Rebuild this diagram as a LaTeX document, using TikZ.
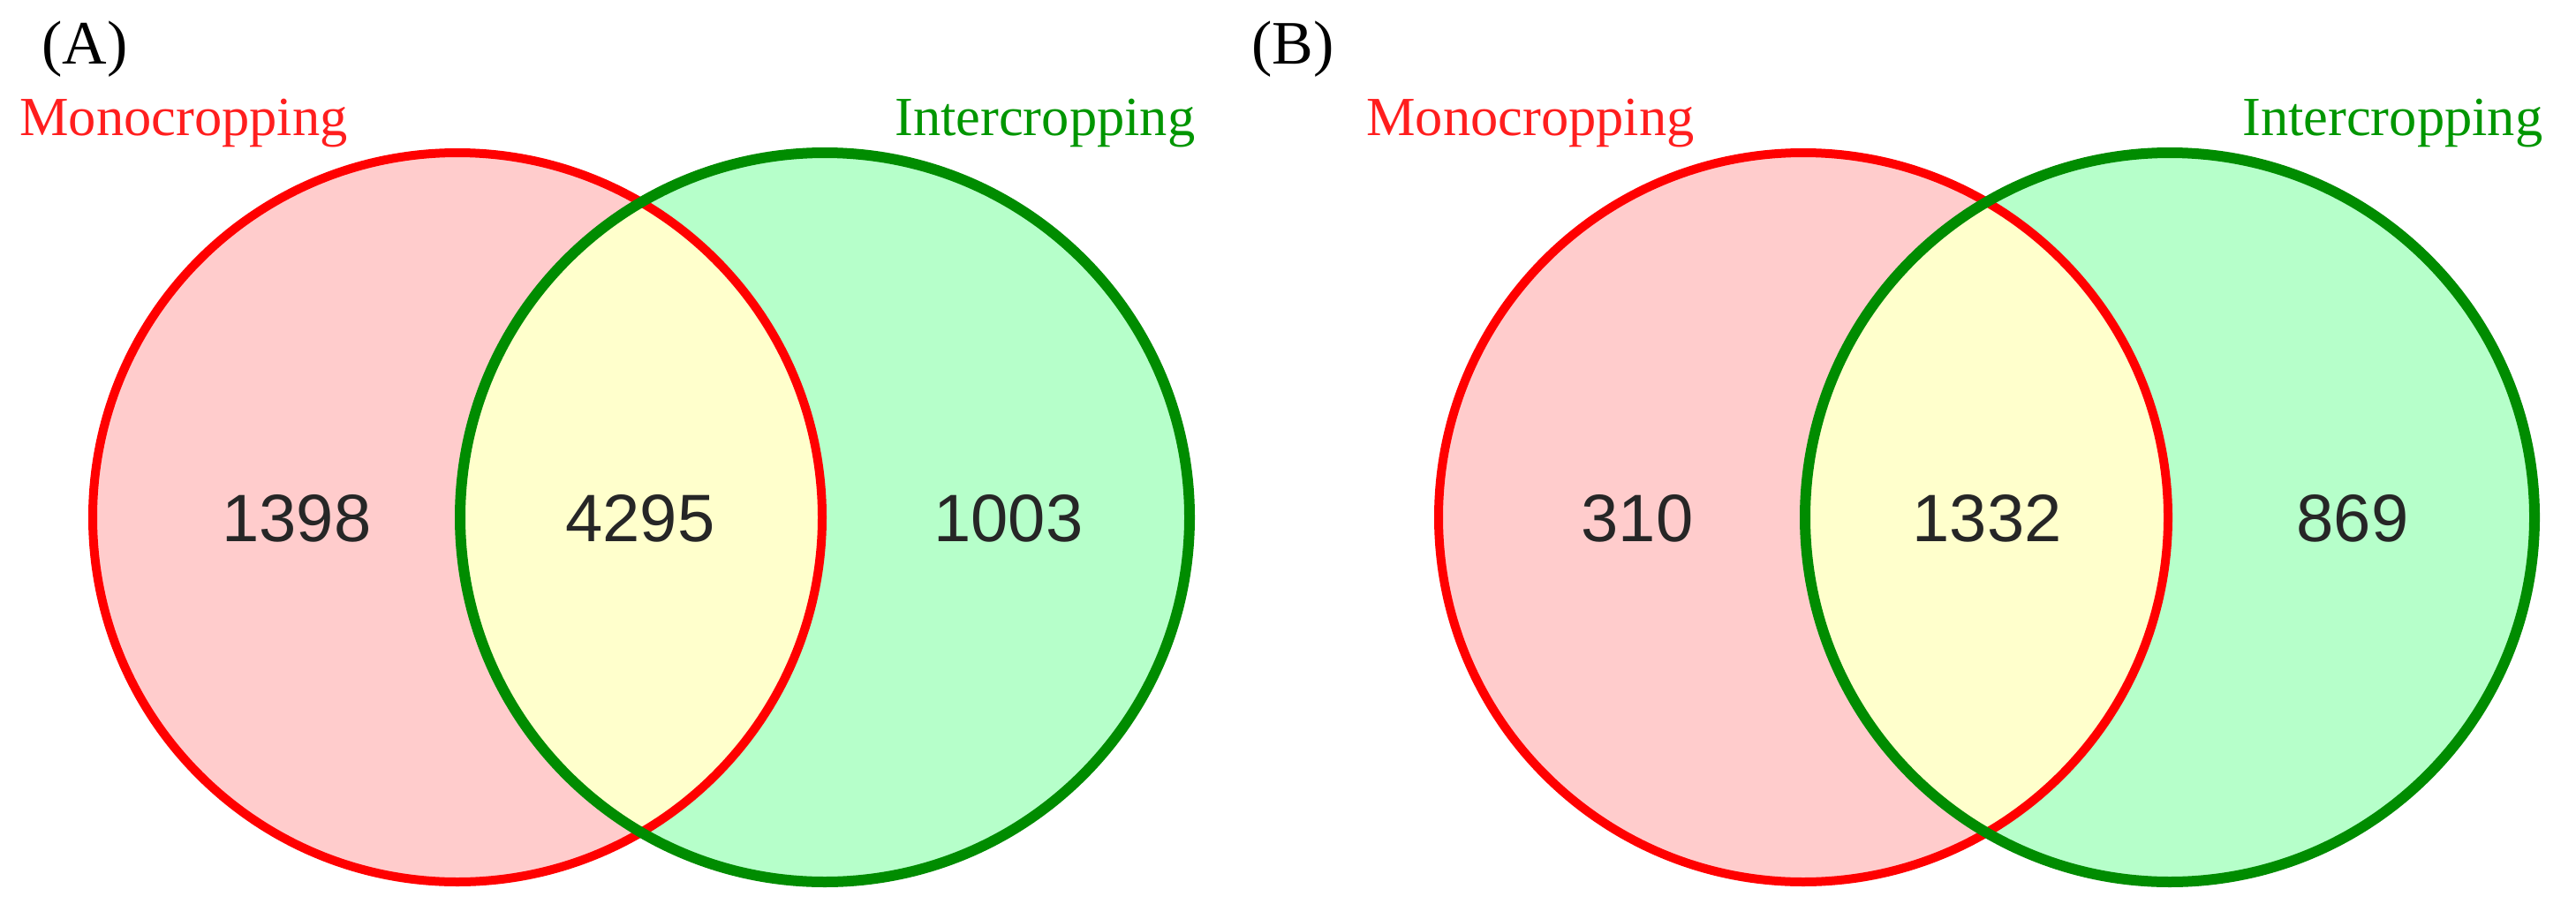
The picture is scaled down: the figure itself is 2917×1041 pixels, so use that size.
\documentclass[tikz,border=0pt]{standalone}
\usepackage{fontspec}
\setmainfont{Liberation Serif}
\newfontfamily\numfont{Liberation Sans}
\definecolor{pinkfill}{RGB}{255,204,204}
\definecolor{mintfill}{RGB}{182,255,202}
\definecolor{yelfill}{RGB}{255,255,204}
\definecolor{redline}{RGB}{255,0,0}
\definecolor{greenline}{RGB}{0,140,0}
\definecolor{redtext}{RGB}{255,30,30}
\definecolor{greentext}{RGB}{0,150,0}
\tikzset{
  setlabel/.style={inner sep=0pt, anchor=base west, font=\fontsize{62.5}{70}\selectfont},
  panellabel/.style={inner sep=0pt, anchor=base west, font=\fontsize{70}{80}\selectfont, text=black},
  count/.style={inner sep=0pt, anchor=base, font=\numfont\fontsize{76}{84}\selectfont, text=black!85},
  redring/.style={draw=redline, line width=10pt},
  greenring/.style={draw=greenline, line width=12pt}
}
\begin{document}
\begin{tikzpicture}[x=1pt,y=-1pt]
\useasboundingbox (0,0) rectangle (2917,1041);
\fill[white] (0,0) rectangle (2917,1041);

% ---------- Panel A ----------
\coordinate (A1) at (518,586);
\coordinate (A2) at (934,586);
\fill[pinkfill] (A1) circle[radius=413pt];
\fill[mintfill] (A2) circle[radius=413pt];
\begin{scope}
  \clip (A1) circle[radius=413pt];
  \fill[yelfill] (A2) circle[radius=413pt];
\end{scope}
\draw[redring] (A1) circle[radius=413pt];
\draw[greenring] (A2) circle[radius=413pt];

\node[panellabel] (pA) at (47,73) {(A)};
\node[setlabel, text=redtext] (monoA) at (22,153) {Monocropping};
\node[setlabel, text=greentext] (interA) at (1013,153) {Intercropping};
\node[count] (nA1) at (336,613) {1398};
\node[count] (nA2) at (725,613) {4295};
\node[count] (nA3) at (1142,613) {1003};

% ---------- Panel B ----------
\coordinate (B1) at (2042,586);
\coordinate (B2) at (2457,586);
\fill[pinkfill] (B1) circle[radius=413pt];
\fill[mintfill] (B2) circle[radius=413pt];
\begin{scope}
  \clip (B1) circle[radius=413pt];
  \fill[yelfill] (B2) circle[radius=413pt];
\end{scope}
\draw[redring] (B1) circle[radius=413pt];
\draw[greenring] (B2) circle[radius=413pt];

\node[panellabel] (pB) at (1417,73) {(B)};
\node[setlabel, text=redtext] (monoB) at (1547,153) {Monocropping};
\node[setlabel, text=greentext] (interB) at (2539,153) {Intercropping};
\node[count] (nB1) at (1854,613) {310};
\node[count] (nB2) at (2250,613) {1332};
\node[count] (nB3) at (2664,613) {869};
\end{tikzpicture}
\end{document}
